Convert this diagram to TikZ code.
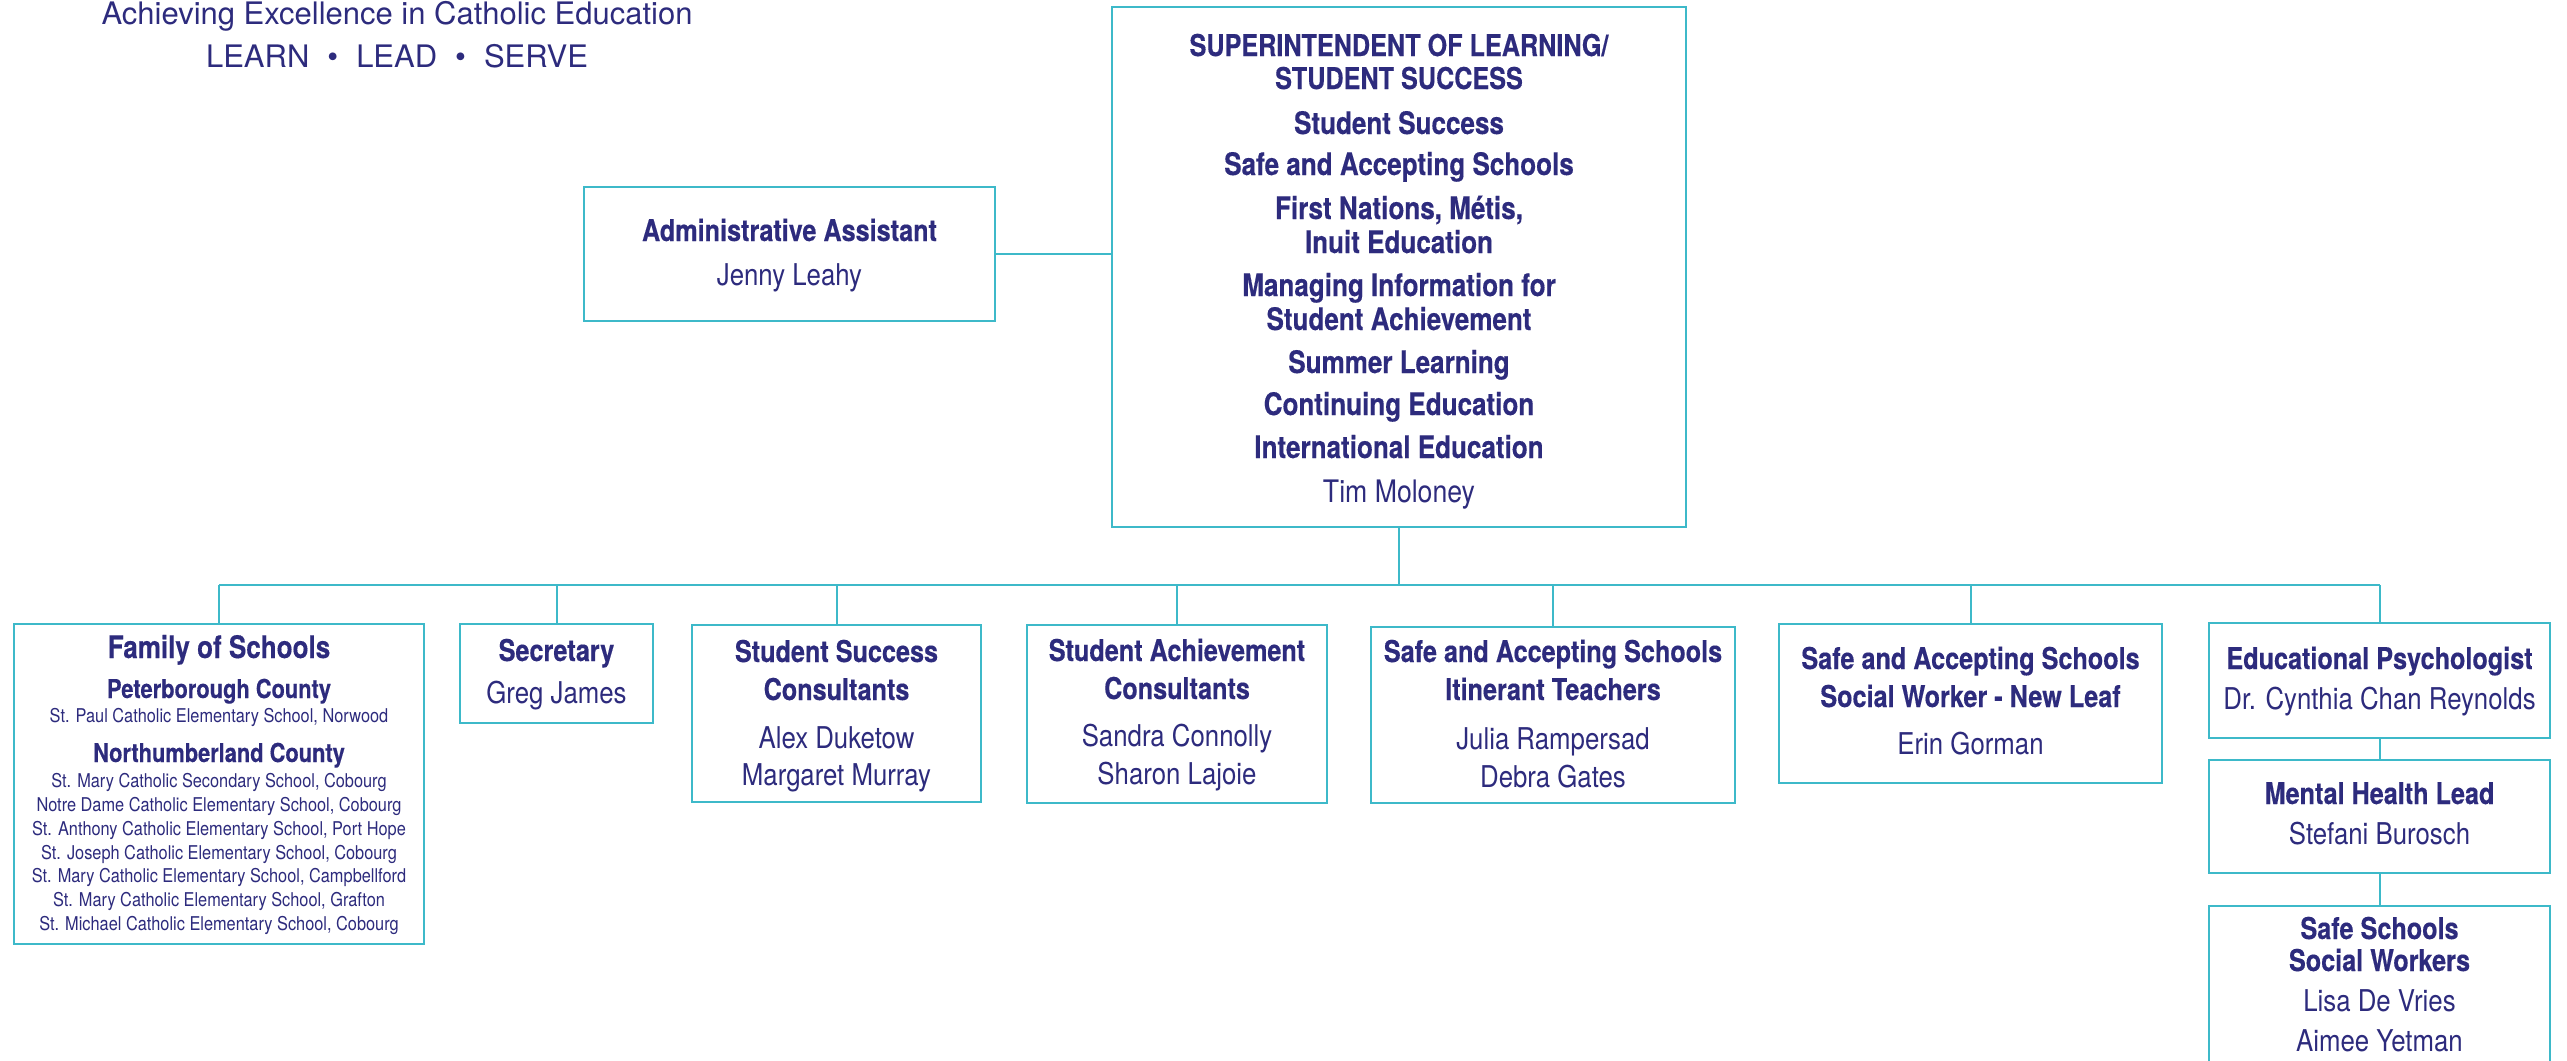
\documentclass[tikz,border=0pt]{standalone}
\usepackage{fontspec}
\setmainfont{TeX Gyre Heros}[FakeStretch=0.86, BoldFeatures={FakeStretch=0.84, FakeBold=0.3}]
\newfontfamily\hdrfont{TeX Gyre Heros}
\definecolor{orgnavy}{HTML}{2D2B7D}
\definecolor{orgteal}{HTML}{3DB9C9}
\tikzset{
  orgbox/.style={draw=orgteal, line width=2pt, inner sep=0pt, rectangle},
  conn/.style={draw=orgteal, line width=2pt},
  txt/.style={text=orgnavy, anchor=base, inner sep=0pt},
  hdr/.style={txt, font=\hdrfont\fontsize{31}{37}\selectfont},
  scap/.style={txt, font=\fontsize{30}{36}\selectfont\bfseries},
  stl/.style={txt, font=\fontsize{31}{37}\selectfont\bfseries},
  snm/.style={txt, font=\fontsize{31}{37}\selectfont},
  bt/.style={txt, font=\fontsize{30}{36}\selectfont\bfseries},
  rn/.style={txt, font=\fontsize{30}{36}\selectfont},
  cty/.style={txt, font=\fontsize{26}{31}\selectfont\bfseries},
  sch/.style={txt, font=\fontsize{19}{23}\selectfont},
}
\begin{document}
\begin{tikzpicture}[x=1pt,y=-1pt]
\fill[white] (0,0) rectangle (2567,1060);
\useasboundingbox (0,0) rectangle (2567,1060);

% header
\node[hdr] (h1) at (397,24) {Achieving Excellence in Catholic Education};
\node[hdr] (h2) at (397,67) {LEARN\hspace{18pt}\textbullet\hspace{18pt}LEAD\hspace{18pt}\textbullet\hspace{18pt}SERVE};

% boxes
\node[orgbox, minimum width=574, minimum height=520] (sup) at (1399,267) {};
\node[orgbox, minimum width=411, minimum height=134] (adm) at (789.5,254) {};
\node[orgbox, minimum width=410, minimum height=320] (fam) at (219,784) {};
\node[orgbox, minimum width=193, minimum height=99] (sec) at (556.5,673.5) {};
\node[orgbox, minimum width=289, minimum height=177] (ssc) at (836.5,713.5) {};
\node[orgbox, minimum width=300, minimum height=178] (sac) at (1177,714) {};
\node[orgbox, minimum width=364, minimum height=176] (itin) at (1553,715) {};
\node[orgbox, minimum width=383, minimum height=159] (leaf) at (1970.5,703.5) {};
\node[orgbox, minimum width=341, minimum height=115] (edp) at (2379.5,680.5) {};
\node[orgbox, minimum width=341, minimum height=113] (mhl) at (2379.5,816.5) {};
\node[orgbox, minimum width=341, minimum height=184] (ssw) at (2379.5,998) {};

% connectors
\coordinate (bus) at (1399,585);
\draw[conn] (adm.east) -- (adm.east -| sup.west);
\draw[conn] (sup.south) -- (sup.south |- bus);
\draw[conn] (fam.north |- bus) -- (edp.north |- bus);
\foreach \b in {fam,sec,ssc,sac,itin,leaf,edp}{
  \draw[conn] (\b.north) -- (\b.north |- bus);
}
\draw[conn] (edp.south) -- (mhl.north);
\draw[conn] (mhl.south) -- (ssw.north);

% superintendent text
\node[scap] (s1) at (1399,56) {SUPERINTENDENT OF LEARNING/};
\node[scap] (s2) at (1399,89) {STUDENT SUCCESS};
\node[stl] (s3) at (1399,134) {Student Success};
\node[stl] (s4) at (1399,175) {Safe and Accepting Schools};
\node[stl] (s5) at (1399,219) {First Nations, Métis,};
\node[stl] (s6) at (1399,253) {Inuit Education};
\node[stl] (s7) at (1399,296) {Managing Information for};
\node[stl] (s8) at (1399,330) {Student Achievement};
\node[stl] (s9) at (1399,373) {Summer Learning};
\node[stl] (s10) at (1399,415) {Continuing Education};
\node[stl] (s11) at (1399,458) {International Education};
\node[snm] (s12) at (1399,502) {Tim Moloney};

% admin
\node[bt] (a1) at (789.5,241) {Administrative Assistant};
\node[rn] (a2) at (789.5,285) {Jenny Leahy};

% family of schools
\node[stl] (f1) at (219,658) {Family of Schools};
\node[cty] (f2) at (219,698) {Peterborough County};
\node[sch] (f3) at (219,722) {St. Paul Catholic Elementary School, Norwood};
\node[cty] (f4) at (219,762) {Northumberland County};
\node[sch] (f5) at (219,787) {St. Mary Catholic Secondary School, Cobourg};
\node[sch] (f6) at (219,811) {Notre Dame Catholic Elementary School, Cobourg};
\node[sch] (f7) at (219,835) {St. Anthony Catholic Elementary School, Port Hope};
\node[sch] (f8) at (219,859) {St. Joseph Catholic Elementary School, Cobourg};
\node[sch] (f9) at (219,882) {St. Mary Catholic Elementary School, Campbellford};
\node[sch] (f10) at (219,906) {St. Mary Catholic Elementary School, Grafton};
\node[sch] (f11) at (219,930) {St. Michael Catholic Elementary School, Cobourg};

% secretary
\node[bt] (sec1) at (556.5,661) {Secretary};
\node[rn] (sec2) at (556.5,703) {Greg James};

% student success consultants
\node[bt] (ssc1) at (836.5,662) {Student Success};
\node[bt] (ssc2) at (836.5,700) {Consultants};
\node[rn] (ssc3) at (836.5,748) {Alex Duketow};
\node[rn] (ssc4) at (836.5,785) {Margaret Murray};

% student achievement consultants
\node[bt] (sac1) at (1177,661) {Student Achievement};
\node[bt] (sac2) at (1177,699) {Consultants};
\node[rn] (sac3) at (1177,746) {Sandra Connolly};
\node[rn] (sac4) at (1177,784) {Sharon Lajoie};

% itinerant teachers
\node[bt] (it1) at (1553,662) {Safe and Accepting Schools};
\node[bt] (it2) at (1553,700) {Itinerant Teachers};
\node[rn] (it3) at (1553,749) {Julia Rampersad};
\node[rn] (it4) at (1553,787) {Debra Gates};

% new leaf
\node[bt] (lf1) at (1970.5,669) {Safe and Accepting Schools};
\node[bt] (lf2) at (1970.5,707) {Social Worker - New Leaf};
\node[rn] (lf3) at (1970.5,754) {Erin Gorman};

% right column
\node[bt] (ep1) at (2379.5,669) {Educational Psychologist};
\node[rn] (ep2) at (2379.5,709) {Dr. Cynthia Chan Reynolds};
\node[bt] (mh1) at (2379.5,804) {Mental Health Lead};
\node[rn] (mh2) at (2379.5,844) {Stefani Burosch};
\node[bt] (sw1) at (2379.5,939) {Safe Schools};
\node[bt] (sw2) at (2379.5,971) {Social Workers};
\node[rn] (sw3) at (2379.5,1011) {Lisa De Vries};
\node[rn] (sw4) at (2379.5,1051) {Aimee Yetman};
\end{tikzpicture}
\end{document}
